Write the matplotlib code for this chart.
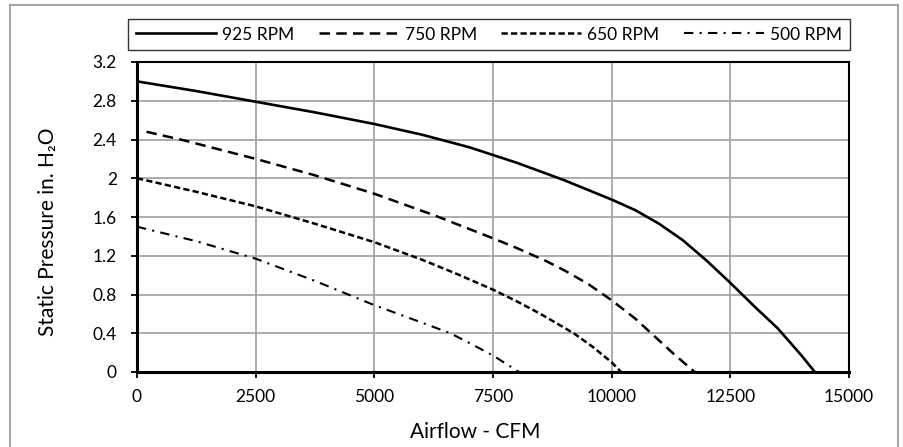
import matplotlib
matplotlib.use("Agg")
import matplotlib.pyplot as plt
from matplotlib.patches import Rectangle

plt.rcParams['font.family'] = ['Lato', 'Noto Sans', 'DejaVu Sans']

rpm_925_x = [0, 1250, 2500, 3750, 5000, 6000, 7000, 7500, 8000, 9000, 10000, 10500, 11000, 11500, 12000, 12500, 13000, 13500, 14000, 14280]
rpm_925_y = [3.0, 2.9, 2.79, 2.68, 2.56, 2.45, 2.32, 2.24, 2.16, 1.98, 1.78, 1.67, 1.53, 1.36, 1.15, 0.92, 0.68, 0.45, 0.17, 0.0]
rpm_750_x = [200, 1000, 2500, 3750, 5000, 6250, 7500, 8000, 8600, 9000, 9500, 10000, 10500, 10900, 11300, 11750]
rpm_750_y = [2.48, 2.39, 2.2, 2.03, 1.84, 1.62, 1.38, 1.28, 1.15, 1.05, 0.91, 0.74, 0.55, 0.37, 0.19, 0.0]
rpm_650_x = [0, 1250, 2500, 3750, 5000, 5500, 6000, 6750, 7500, 8000, 8500, 9200, 9600, 10000, 10200]
rpm_650_y = [2.0, 1.86, 1.71, 1.53, 1.34, 1.25, 1.16, 1.01, 0.85, 0.73, 0.6, 0.4, 0.26, 0.1, 0.0]
rpm_500_x = [0, 1250, 2500, 3750, 5000, 5500, 6000, 6600, 7000, 7500, 8050]
rpm_500_y = [1.5, 1.35, 1.17, 0.94, 0.69, 0.6, 0.51, 0.4, 0.3, 0.17, 0.0]
labels = ['925 RPM', '750 RPM', '650 RPM', '500 RPM']
x_ticks = [0, 2500, 5000, 7500, 10000, 12500, 15000]
y_ticks = [0, 0.4, 0.8, 1.2, 1.6, 2, 2.4, 2.8, 3.2]
y_tick_labels = ['0', '0.4', '0.8', '1.2', '1.6', '2', '2.4', '2.8', '3.2']

fig = plt.figure(figsize=(9.04, 4.47), dpi=100)
W, H = 904, 447
ax = fig.add_axes([137 / W, 1 - 372 / H, (849 - 137) / W, (372 - 62) / H])

fig.patches.append(Rectangle((10 / W, -0.05), 888 / W, 1 - 5 / H + 0.05,
                             transform=fig.transFigure, fill=False,
                             edgecolor='#a6a6a6', lw=1.5))

ax.plot(rpm_925_x, rpm_925_y, color='black', lw=1.9, ls='-', label=labels[0])
ax.plot(rpm_750_x, rpm_750_y, color='black', lw=1.8, ls=(0, (4.2, 2.5)), label=labels[1])
ax.plot(rpm_650_x, rpm_650_y, color='black', lw=1.8, ls=(0, (2.5, 1.3)), label=labels[2])
ax.plot(rpm_500_x, rpm_500_y, color='black', lw=1.5, ls=(0, (4.5, 3, 1, 3)), label=labels[3])

ax.set_xlim(0, 15000)
ax.set_ylim(0, 3.2)
ax.set_xticks(x_ticks)
ax.set_xticklabels([str(v) for v in x_ticks])
ax.set_yticks(y_ticks)
ax.set_yticklabels(y_tick_labels)
ax.grid(True, color='#a6a6a6', lw=1.3)
ax.set_axisbelow(True)
for s in ['left', 'bottom']:
    ax.spines[s].set_linewidth(2.2)
for s in ['top', 'right']:
    ax.spines[s].set_linewidth(1.5)
ax.tick_params(direction='out', length=4.5, width=1.3, labelsize=12.5)
ax.tick_params(axis='y', pad=10)
ax.tick_params(axis='x', pad=8)
ax.set_xlabel('Airflow - CFM', fontsize=15)
ax.set_ylabel('Static Pressure in. H\u2082O', fontsize=15)
ax.xaxis.set_label_coords((475 - 137) / 712, -(432 - 372) / 310, transform=ax.transAxes)
ax.yaxis.set_label_coords(-(137 - 48) / 712, (372 - 232) / 310, transform=ax.transAxes)
ax.xaxis.label.set_va('center')
ax.yaxis.label.set_va('center')

leg = fig.legend(loc='center', bbox_to_anchor=((128 + 850) / 2 / W, 1 - 34.5 / H),
                 ncol=4, frameon=True, fancybox=False, edgecolor='black',
                 fontsize=12.5, handlelength=4.6, columnspacing=1.4,
                 handletextpad=0.35, borderpad=0.45, borderaxespad=0)
leg.get_frame().set_linewidth(1.0)

fig.savefig('out.png', dpi=100)
